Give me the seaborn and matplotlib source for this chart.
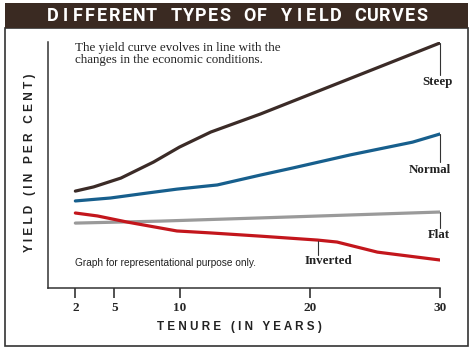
import matplotlib.pyplot as plt
import matplotlib.patches as mpatches
import pandas as pd
import seaborn as sns

sns.set_theme(style="white")
plt.rcParams["font.family"] = ["Liberation Serif", "DejaVu Serif"]

# Values (arbitrary yield units, tenure in years)
steep_x = [2, 3.4, 5.5, 8, 10, 12.4, 16.2, 30]
steep_y = [3.94, 4.11, 4.47, 5.12, 5.73, 6.34, 7.07, 9.96]

normal_x = [2, 4.7, 7.5, 9.8, 12.9, 16.2, 18.7, 23.1, 27.9, 30]
normal_y = [3.54, 3.66, 3.86, 4.02, 4.19, 4.59, 4.88, 5.41, 5.93, 6.26]

flat_x = [2, 8.5, 16.2, 30]
flat_y = [2.64, 2.72, 2.85, 3.09]

inverted_x = [2, 3.7, 6, 9.8, 12.4, 16.2, 20.6, 22.1, 25.2, 30]
inverted_y = [3.05, 2.93, 2.68, 2.32, 2.24, 2.11, 1.95, 1.87, 1.46, 1.14]

tenure_ticks = [2, 5, 10, 20, 30]

TITLE = "DIFFERENT TYPES OF YIELD CURVES"

curves = {
    "Steep": (steep_x, steep_y),
    "Normal": (normal_x, normal_y),
    "Flat": (flat_x, flat_y),
    "Inverted": (inverted_x, inverted_y),
}
palette = {
    "Steep": "#3b2b27",
    "Normal": "#175f8d",
    "Flat": "#9a9a9a",
    "Inverted": "#c3161c",
}

frames = []
for name, (xs, ys) in curves.items():
    frames.append(pd.DataFrame({"tenure": xs, "yield": ys, "curve": name}))
df = pd.concat(frames, ignore_index=True)

fig = plt.figure(figsize=(4.73, 3.5), dpi=100)
ax = fig.add_axes([0.1015, 0.177, 0.8285, 0.703])

sns.lineplot(data=df, x="tenure", y="yield", hue="curve", palette=palette,
             linewidth=2.3, legend=False, ax=ax, sort=False)

ax.set_xlim(-0.1, 30)
ax.set_ylim(0, 10)
ax.set_xticks(tenure_ticks)
ax.set_xticklabels([str(t) for t in tenure_ticks], fontweight="bold", fontsize=9.5)
ax.set_yticks([])
ax.tick_params(axis="x", direction="out", length=7.5, width=1.2, color="#333333",
               pad=2.5, bottom=True)
for side in ["top", "right"]:
    ax.spines[side].set_visible(False)
for side in ["left", "bottom"]:
    ax.spines[side].set_color("#333333")
    ax.spines[side].set_linewidth(1.1)
ax.set_xlabel("")
ax.set_ylabel("")

# leader lines + labels at curve ends
label_specs = {
    "Steep": (30, 1.3, -0.2),
    "Normal": (30, 1.15, -0.8),
    "Flat": (30, 0.65, -0.1),
}
for name, (xe, drop, dx) in label_specs.items():
    ye = curves[name][1][-1]
    ax.plot([xe, xe], [ye, ye - drop], color="#333333", lw=0.8, clip_on=False)
    ax.text(xe + dx, ye - drop - 0.05, name, ha="center", va="top",
            fontsize=9.3, fontweight="bold", color="#222222", clip_on=False)

inv_x = 20.6
ax.plot([inv_x, inv_x], [1.92, 1.35], color="#333333", lw=0.8)
ax.text(inv_x + 0.85, 1.35, "Inverted", ha="center", va="top",
        fontsize=9.3, fontweight="bold", color="#222222")

ax.text(2, 9.98, "The yield curve evolves in line with the\nchanges in the economic conditions.",
        ha="left", va="top", fontsize=9.4, color="#222222", linespacing=0.95)
ax.text(2, 1.0, "Graph for representational purpose only.", ha="left", va="center",
        fontsize=7.3, color="#222222",
        family=["Liberation Sans", "DejaVu Sans"])

fig.text(0.507, 0.066, "T E N U R E   ( I N   Y E A R S )", ha="center", va="center",
         fontsize=8.4, fontweight="bold", color="#222222",
         family=["Liberation Sans", "DejaVu Sans"])
fig.text(0.064, 0.534, "Y I E L D   ( I N   P E R   C E N T )", ha="center", va="center",
         rotation=90, fontsize=8.6, fontweight="bold", color="#222222",
         family=["Liberation Sans", "DejaVu Sans"])

# outer frame and title band
fig.patches.append(mpatches.Rectangle((5 / 473, 4 / 350), 463 / 473, 318 / 350,
                                      transform=fig.transFigure, fill=False,
                                      edgecolor="#333333", linewidth=1.2))
fig.patches.append(mpatches.Rectangle((5 / 473, 1 - 28 / 350), 463 / 473, 25 / 350,
                                      transform=fig.transFigure, facecolor="#3a2a22",
                                      edgecolor="none"))
# tracked title: one glyph per evenly spaced slot
first_c, last_c = 53 / 473, 422 / 473
pitch = (last_c - first_c) / (len(TITLE) - 1)
for i, ch in enumerate(TITLE):
    if ch != " ":
        fig.text(first_c + i * pitch, 1 - 16 / 350, ch, ha="center", va="center",
                 fontsize=13, fontweight="bold", color="white",
                 family=["Roboto", "DejaVu Sans"])

fig.savefig("out.png", dpi=100)
